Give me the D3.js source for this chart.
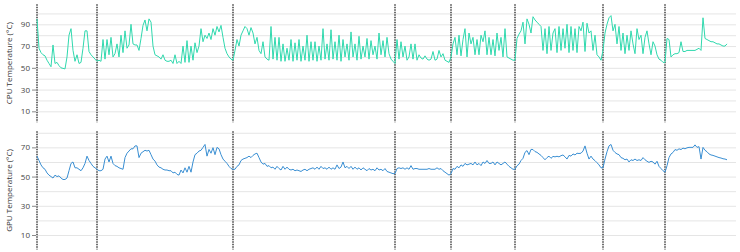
<!DOCTYPE html>
<html>
<head>
<meta charset="utf-8">
<script src="https://cdn.jsdelivr.net/npm/d3@7"></script>
<style>
  body { margin: 0; background: #fff; }
  #chart text { font-family: "Open Sans", "DejaVu Sans", sans-serif; }
</style>
</head>
<body>
<div id="chart"></div>
<script>
// CPU temperature per session (one reading per sample)
const cpuSessions = [
  [95, 68, 64, 62, 61, 57, 54, 51, 71, 54, 55, 52, 50, 49.5, 49, 60, 80, 86, 66, 56, 62, 54, 55, 68, 84, 84, 65, 62, 60, 58],
  [56, 57, 56, 76, 58, 76, 62, 78, 60, 63, 72, 60, 80, 64, 84, 68, 71, 90, 72, 71,
   71, 66, 77, 89, 94, 84, 95, 92, 70, 62, 61, 60, 58, 62, 57, 56, 56, 57, 54, 62,
   54, 56, 54, 70, 55, 75, 55, 70, 57, 73, 64, 70, 86, 74, 80, 77, 82, 76, 86, 80,
   88, 83, 89, 78, 68, 63, 60, 58],
  [57, 66, 76, 70, 80, 84, 88, 86, 80, 87, 82, 72, 78, 66, 63, 74, 60, 58, 57, 88,
   58, 78, 57, 78, 56, 72, 56, 68, 57, 76, 56, 73, 57, 76, 56, 70, 57, 80, 56, 74,
   57, 74, 56, 70, 57, 86, 58, 72, 57, 85, 58, 74, 57, 80, 56, 76, 60, 72, 57, 83,
   60, 72, 57, 79, 58, 70, 60, 77, 58, 75, 62, 70, 58, 82, 62, 75, 60, 78, 63, 58, 56],
  [54, 76, 58, 74, 60, 70, 57, 60, 72, 58, 72, 57, 62, 59, 58, 61, 58, 57, 58, 65, 57, 58, 66, 60, 63, 57, 56, 55],
  [60, 72, 78, 62, 80, 61, 76, 86, 60, 82, 72, 78, 62, 76, 62, 80, 74, 84, 62, 78, 62, 76, 61, 82, 66, 78, 60, 86, 60, 59, 58, 57],
  [57, 77, 81, 84, 92, 72, 95, 90, 82, 97, 94, 92, 90, 88, 66, 86, 63, 88, 66, 82,
   86, 64, 88, 66, 86, 68, 90, 64, 88, 66, 86, 64, 88, 84, 92, 65, 91, 82, 84, 66, 80, 62, 60, 57],
  [66, 82, 90, 96, 98, 84, 90, 72, 88, 66, 82, 63, 80, 66, 84, 72, 63, 86, 76, 80, 63, 78, 84, 72, 62, 74, 70, 62, 58, 57, 55],
  [55, 77, 76, 60, 62, 63, 63, 64, 74, 65, 65, 66, 66, 66, 66, 66, 67, 68, 66, 96, 77, 76, 75, 74, 74, 73, 72, 72, 71, 70, 70, 72]
];

// GPU temperature per session (same samples)
const gpuSessions = [
  [64, 61, 58, 56, 55, 52.5, 51, 50, 49, 51, 50, 50.5, 49, 48, 48, 49, 54, 59, 60, 56, 56, 55, 54, 56, 59, 64, 61, 59, 57, 56],
  [55, 54, 54, 55, 62, 64, 60, 64, 59, 57.5, 57, 56, 55.5, 55, 63, 66, 67.5, 69, 69, 71,
   71, 63, 66, 67, 68, 67.5, 68, 65, 62, 60.6, 58, 56.5, 56, 55, 54.5, 54.5, 54, 54, 52.5, 53,
   51.5, 51, 54.5, 52.5, 56, 53, 57, 53, 60, 65, 66, 67.5, 68, 70, 72, 64, 68.6, 66, 69.8, 65,
   70, 69, 65, 62, 60.5, 59, 57, 55.5],
  [55, 55, 57, 58, 61, 62, 62.5, 63, 64, 63, 64.5, 65.5, 66, 63, 60, 58.5, 59, 57, 57.5, 56,
   56.5, 55, 57, 55.5, 54.5, 57, 55, 56.5, 55, 54.5, 55, 54, 54.5, 54, 53.5, 54.5, 55, 54, 55, 55.5,
   56, 55, 56.5, 55, 57, 55.5, 56, 55, 56.5, 55, 56, 55, 58, 55.5, 56.5, 60, 56, 57, 55.5, 57,
   55, 56.5, 55, 56, 54.5, 56, 55, 54, 55.5, 54.5, 55, 54, 56, 54.5, 55, 54, 55.5, 53.5, 53, 52.5, 52],
  [52, 55.5, 56, 55.5, 56, 55, 56, 55, 57.5, 55, 55.5, 55.5, 55, 55, 55, 55, 55, 55.5, 55, 55, 55, 56, 55, 55.5, 54, 53, 52, 51],
  [52, 55.5, 55, 57, 56, 58, 57, 59, 58, 58.5, 59, 58, 60, 58, 59, 57.5, 60, 59, 61, 59, 59, 60, 58, 60, 59, 58, 59, 60, 58.5, 57, 56, 55],
  [55, 57.4, 58.5, 61, 62.5, 66.6, 67.8, 65, 68.6, 68.5, 67.1, 66.6, 65.5, 64.5, 63, 61.5, 63, 64, 62.5, 63.8,
   63.5, 63.9, 63.5, 64.3, 64.8, 63.5, 62, 64.5, 64, 65.5, 64.8, 66, 65.8, 66, 67.5, 71, 66, 62, 64, 62, 60.9, 59.5, 58, 56],
  [56, 62, 67, 71, 72, 68, 66.5, 65.5, 65, 63, 62.5, 61.5, 62, 60, 61.5, 61, 62, 61, 61.5, 61, 63, 61.5, 60.5, 59.7, 60.5, 60, 58.5, 60.5, 57, 55.5, 54],
  [53, 57.4, 63, 65.5, 66.5, 68.5, 68, 69, 68.5, 69.5, 69, 69.7, 70, 70, 70, 71.7, 70, 70.5, 62, 70, 68, 67, 65.5, 64.8, 64.5, 64, 63.5, 63, 62.7, 62.2, 62, 61.5]
];

const cpuTicks = [10, 30, 50, 70, 90];
const gpuTicks = [10, 30, 50, 70];

const config_size = {
  svg_width: 740,
  svg_height: 252,
  left: 37,
  right: 736,
  data_right: 727,
};

// session start indices come from the session lengths
const sessionStarts = [];
let acc = 0;
cpuSessions.forEach(s => { sessionStarts.push(acc); acc += s.length; });
const cpu = cpuSessions.flat();
const gpu = gpuSessions.flat();

const svg = d3.select('#chart').append('svg')
  .attr('width', config_size.svg_width)
  .attr('height', config_size.svg_height);

const x = d3.scaleLinear()
  .domain([0, cpu.length - 1])
  .range([config_size.left, config_size.data_right]);

function panel(values, ticks, yMax, top, bottom, title, color) {
  const y = d3.scaleLinear().domain([0, yMax]).range([bottom, top]);
  const g = svg.append('g');

  // gridlines every 10
  const grid = d3.range(10, yMax, 10);
  g.append('g')
    .attr('transform', `translate(${config_size.left},0)`)
    .call(d3.axisLeft(y).tickValues(grid).tickSize(-(config_size.right - config_size.left)).tickFormat(''))
    .call(a => a.select('.domain').remove())
    .call(a => a.selectAll('line').attr('stroke', '#e5e5e5'));

  // tick labels
  g.append('g')
    .attr('transform', `translate(${config_size.left - 1},0)`)
    .call(d3.axisLeft(y).tickValues(ticks).tickSize(4).tickPadding(2))
    .call(a => a.select('.domain').remove())
    .call(a => a.selectAll('line').attr('stroke', '#888'))
    .call(a => a.selectAll('text').attr('fill', '#444').style('font-size', '8px'));

  // session boundaries
  g.selectAll('.session').data(sessionStarts).enter().append('line')
    .attr('x1', d => x(d)).attr('x2', d => x(d))
    .attr('y1', top).attr('y2', bottom)
    .attr('stroke', '#222')
    .attr('stroke-width', 1.3)
    .attr('stroke-dasharray', '1.5,1');

  g.append('path')
    .datum(values)
    .attr('fill', 'none')
    .attr('stroke', color)
    .attr('stroke-width', 1)
    .attr('d', d3.line()
      .x((d, i) => x(i))
      .y(d => y(d)));

  svg.append('text')
    .attr('transform', `translate(12,${(top + bottom) / 2}) rotate(-90)`)
    .attr('text-anchor', 'middle')
    .attr('fill', '#333')
    .style('font-size', '8px')
    .text(title);
}

panel(cpu, cpuTicks, 108.5, 4.2, 122.2, 'CPU Temperature (°C)', '#30d9ae');
panel(gpu, gpuTicks, 81, 131.3, 249.6, 'GPU Temperature (°C)', '#3a8fd3');
</script>
</body>
</html>
